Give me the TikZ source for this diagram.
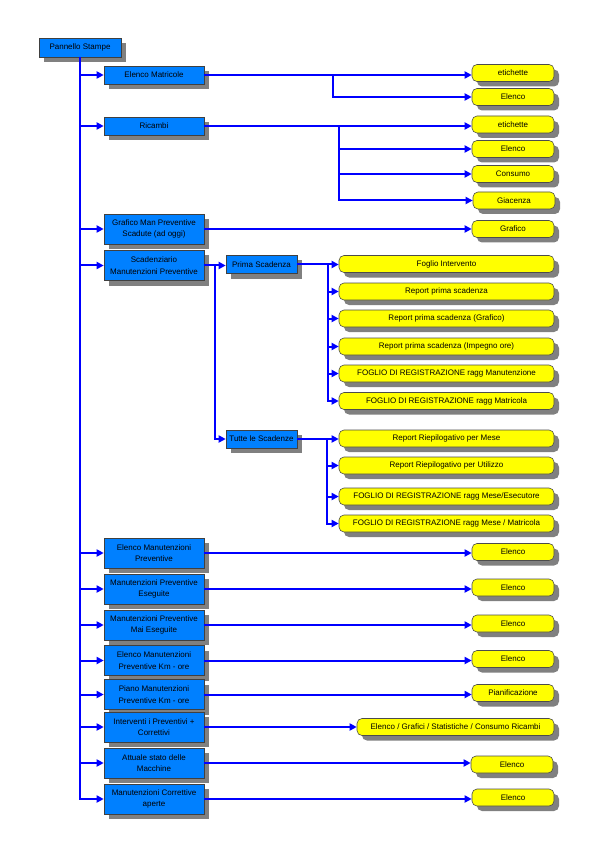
\documentclass[tikz,border=0pt]{standalone}
\usepackage{fontspec}
\setmainfont{Liberation Sans}
\usetikzlibrary{arrows.meta,shadows}
\definecolor{boxblue}{RGB}{0,128,255}
\definecolor{linkblue}{RGB}{0,0,255}
\definecolor{boxyellow}{RGB}{255,255,0}
\begin{document}
\begin{tikzpicture}[x=1pt,y=-1pt,
  bluebox/.style={draw=black!75, line width=0.6pt, fill=boxblue, inner sep=0pt,
    minimum width=100pt, minimum height=30pt, align=center,
    font=\fontsize{8}{11.5}\selectfont,
    drop shadow={shadow xshift=5pt, shadow yshift=-5pt, fill=black!50, opacity=1}},
  yelbox/.style={draw=black!70, line width=0.6pt, fill=boxyellow, rounded corners=5pt, inner sep=0pt,
    minimum width=82pt, minimum height=17pt, align=center,
    font=\fontsize{8}{10}\selectfont,
    drop shadow={shadow xshift=5pt, shadow yshift=-5pt, fill=black!50, opacity=1}},
  widebox/.style={yelbox, minimum width=215pt},
  link/.style={draw=linkblue, line width=2pt},
  arr/.style={link, -{Triangle[length=7pt,width=7pt]}}
]
\useasboundingbox (0,0) rectangle (607,858);

% blue boxes
\node[bluebox, minimum width=82pt, minimum height=19pt] (pan) at (80,47.5) {Pannello Stampe};
\node[bluebox, minimum height=18pt] (em) at (154,75) {Elenco Matricole};
\node[bluebox, minimum height=18pt] (ric) at (154,126) {Ricambi};
\node[bluebox] (gmp) at (154,229) {Grafico Man Preventive\\Scadute (ad oggi)};
\node[bluebox] (scad) at (154,265.5) {Scadenziario\\Manutenzioni Preventive};
\node[bluebox, minimum width=71pt, minimum height=18pt] (ps) at (261.5,264.5) {Prima Scadenza};
\node[bluebox, minimum width=71pt, minimum height=18pt] (ts) at (261.5,439) {Tutte le Scadenze};
\node[bluebox] (emp) at (154,553) {Elenco Manutenzioni\\Preventive};
\node[bluebox] (mpe) at (154,589) {Manutenzioni Preventive\\Eseguite};
\node[bluebox] (mpme) at (154,625) {Manutenzioni Preventive\\Mai Eseguite};
\node[bluebox] (emk) at (154,660.5) {Elenco Manutenzioni\\Preventive Km - ore};
\node[bluebox] (pmk) at (154,694.5) {Piano Manutenzioni\\Preventive Km - ore};
\node[bluebox] (ipc) at (154,727) {Interventi i Preventivi +\\Correttivi};
\node[bluebox] (asm) at (154,763) {Attuale stato delle\\Macchine};
\node[bluebox] (mca) at (154,799) {Manutenzioni Correttive\\aperte};

% yellow boxes
\node[yelbox] (y1) at (513,73) {etichette};
\node[yelbox] (y2) at (513,97) {Elenco};
\node[yelbox] (r1) at (513,124.5) {etichette};
\node[yelbox] (r2) at (513,149) {Elenco};
\node[yelbox] (r3) at (513,174) {Consumo};
\node[yelbox] (r4) at (514,200.5) {Giacenza};
\node[yelbox] (g1) at (513,229) {Grafico};

\node[widebox] (p1) at (446.5,264) {Foglio Intervento};
\node[widebox] (p2) at (446.5,291.5) {Report prima scadenza};
\node[widebox] (p3) at (446.5,318.5) {Report prima scadenza (Grafico)};
\node[widebox] (p4) at (446.5,346.5) {Report prima scadenza (Impegno ore)};
\node[widebox] (p5) at (446.5,373.5) {FOGLIO DI REGISTRAZIONE ragg Manutenzione};
\node[widebox] (p6) at (446.5,401) {FOGLIO DI REGISTRAZIONE ragg Matricola};

\node[widebox] (t1) at (446.5,438.5) {Report Riepilogativo per Mese};
\node[widebox] (t2) at (446.5,465.5) {Report Riepilogativo per Utilizzo};
\node[widebox] (t3) at (446.5,496.5) {FOGLIO DI REGISTRAZIONE ragg Mese/Esecutore};
\node[widebox] (t4) at (446.5,523.5) {FOGLIO DI REGISTRAZIONE ragg Mese / Matricola};

\node[yelbox] (l1) at (513,552) {Elenco};
\node[yelbox] (l2) at (513,587.5) {Elenco};
\node[yelbox] (l3) at (513,623.5) {Elenco};
\node[yelbox] (l4) at (513,659) {Elenco};
\node[yelbox] (l5) at (513,693) {Pianificazione};
\node[yelbox, minimum width=197pt] (l6) at (455.5,727) {Elenco / Grafici / Statistiche / Consumo Ricambi};
\node[yelbox] (l7) at (512,764.5) {Elenco};
\node[yelbox] (l8) at (513,797.5) {Elenco};

% trunk
\foreach \n in {em,ric,gmp,scad,emp,mpe,mpme,emk,pmk,ipc,asm,mca}
  \draw[arr] (pan.south) |- (\n.west);

% Elenco Matricole
\coordinate (ej) at (333,75);
\draw[arr] (em.east) -- (em.east -| y1.west);
\draw[arr] (ej) |- (y2.west);

% Ricambi
\coordinate (rj) at (339,126);
\draw[arr] (ric.east) -- (ric.east -| r1.west);
\foreach \n in {r2,r3,r4}
  \draw[arr] (rj) |- (\n.west);

% Grafico
\draw[arr] (gmp.east) -- (gmp.east -| g1.west);

% Scadenziario
\coordinate (sj) at (215,265.5);
\draw[arr] (scad.east) -- (scad.east -| ps.west);
\draw[arr] (sj) |- (ts.west);

% Prima Scadenza
\coordinate (pj) at (328,264.5);
\draw[arr] (ps.east) -- (ps.east -| p1.west);
\foreach \n in {p2,p3,p4,p5,p6}
  \draw[arr] (pj) |- (\n.west);

% Tutte le Scadenze
\coordinate (tj) at (327,439);
\draw[arr] (ts.east) -- (ts.east -| t1.west);
\foreach \n in {t2,t3,t4}
  \draw[arr] (tj) |- (\n.west);

% lower rows
\draw[arr] (emp.east) -- (emp.east -| l1.west);
\draw[arr] (mpe.east) -- (mpe.east -| l2.west);
\draw[arr] (mpme.east) -- (mpme.east -| l3.west);
\draw[arr] (emk.east) -- (emk.east -| l4.west);
\draw[arr] (pmk.east) -- (pmk.east -| l5.west);
\draw[arr] (ipc.east) -- (ipc.east -| l6.west);
\draw[arr] (asm.east) -- (asm.east -| l7.west);
\draw[arr] (mca.east) -- (mca.east -| l8.west);
\end{tikzpicture}
\end{document}
